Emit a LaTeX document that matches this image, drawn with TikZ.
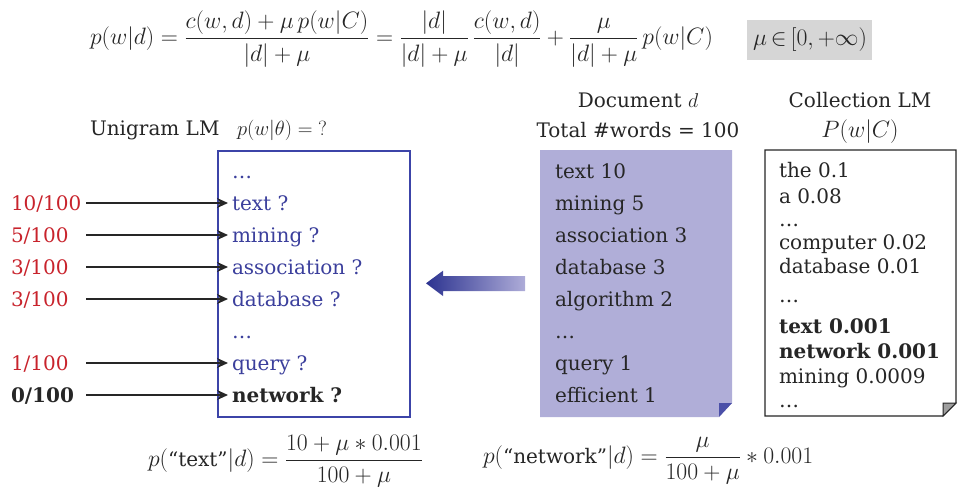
\RequirePackage{fix-cm}
\documentclass[tikz,border=0pt]{standalone}
\usepackage{amsmath}
\usepackage{fontspec}
\setmainfont{DejaVu Serif}
\usetikzlibrary{arrows.meta}

\definecolor{cntred}{HTML}{C8232C}
\definecolor{lmblue}{HTML}{3B3F9C}
\definecolor{boxblue}{HTML}{3C44A8}
\definecolor{docfill}{HTML}{B0AED8}
\definecolor{docfold}{HTML}{4B50A8}
\definecolor{ink}{HTML}{262626}
\definecolor{graybox}{HTML}{D6D6D6}
\definecolor{arrowdark}{HTML}{2C3390}
\definecolor{arrowlight}{HTML}{AEACD8}

\newcommand{\qword}[1]{\text{\fontsize{20}{24}\selectfont``#1''}}

\begin{document}
\begin{tikzpicture}[x=1pt,y=-1pt,
  every node/.style={inner sep=0pt, outer sep=0pt, text=ink},
  txt/.style={font=\fontsize{20}{24}\selectfont, anchor=base west, text height=16pt, text depth=2pt},
  cnt/.style={txt, text=cntred},
  word/.style={txt, text=lmblue},
  conn/.style={draw=ink, line width=1.4pt, -{Stealth[length=11pt,width=10pt]}, shorten >=4pt},
  math/.style={font=\fontsize{23.7}{28}\selectfont},
  smallmath/.style={font=\fontsize{20.5}{24}\selectfont}]

\useasboundingbox (0,0) rectangle (961,491);

% ---- smoothing formula and range of mu ----
\node[math, anchor=west] (formula) at (90,39)
  {$p(w|d)=\dfrac{c(w,d)+\mu\, p(w|C)}{|d|+\mu}
    =\dfrac{|d|}{|d|+\mu}\,\dfrac{c(w,d)}{|d|}
    +\dfrac{\mu}{|d|+\mu}\,p(w|C)$};
\fill[graybox] (747,20) rectangle (872,60);
\node[math] (murange) at (810,40) {${\mu}\,{\in}\,[0,{+}\infty)$};

% ---- headers ----
\node[txt] (uhead) at (90,135) {Unigram LM};
\node[smallmath, anchor=base west] (uform) at (237,135) {$p(w|\theta) = {?}$};
\node[txt, anchor=base] (dhead) at (638,107) {Document $d$};
\node[txt, anchor=base] (dtotal) at (638,137) {Total \#words = 100};
\node[txt, anchor=base] (chead) at (860,107) {Collection LM};
\node[math, anchor=base] (cform) at (860,137) {$P(w|C)$};

% ---- unigram model box ----
\draw[boxblue, line width=1.5pt] (218,151) rectangle (410,417);
\node[word] (u0) at (232,178) {\dots};
\node[word] (u1) at (232,210) {text ?};
\node[word] (u2) at (232,242) {mining ?};
\node[word] (u3) at (232,274) {association ?};
\node[word] (u4) at (232,306) {database ?};
\node[word] (u5) at (232,338) {\dots};
\node[word] (u6) at (232,370) {query ?};
\node[txt, font=\fontsize{20}{24}\selectfont\bfseries] (u7) at (232,402) {network ?};

% ---- relative counts ----
\coordinate (sx) at (86,0);
\node[cnt] (c1) at (11,210) {10/100};
\node[cnt] (c2) at (11,242) {5/100};
\node[cnt] (c3) at (11,274) {3/100};
\node[cnt] (c4) at (11,306) {3/100};
\node[cnt] (c6) at (11,370) {1/100};
\node[txt, font=\fontsize{20}{24}\selectfont\bfseries] (c7) at (11,402) {0/100};
\foreach \i in {1,2,3,4,6,7}
  \draw[conn] (c\i.east -| sx) -- (u\i.west);

% ---- estimation arrow ----
\shade[left color=arrowdark, right color=arrowlight]
  (426,283.3) -- (443,270.7) -- (443,276) -- (525,276) -- (525,291)
  -- (443,291) -- (443,296) -- cycle;

% ---- document ----
\fill[docfill] (540,150) -- (732,150) -- (732,403) -- (719,417) -- (540,417) -- cycle;
\fill[docfold] (719,403) -- (732,403) -- (719,417) -- cycle;
\node[txt] (d0) at (555,178) {text 10};
\node[txt] (d1) at (555,210) {mining 5};
\node[txt] (d2) at (555,242) {association 3};
\node[txt] (d3) at (555,274) {database 3};
\node[txt] (d4) at (555,306) {algorithm 2};
\node[txt] (d5) at (555,338) {\dots};
\node[txt] (d6) at (555,370) {query 1};
\node[txt] (d7) at (555,402) {efficient 1};

% ---- collection model ----
\draw[ink, line width=1.2pt, fill=white] (765,150) -- (956,150) -- (956,403) -- (943,416) -- (765,416) -- cycle;
\draw[ink, line width=1pt, fill=black!38] (943,403) -- (956,403) -- (943,416) -- cycle;
\node[txt] (k0) at (779,177) {the 0.1};
\node[txt] (k1) at (779,203) {a 0.08};
\node[txt] (k2) at (779,226) {\dots};
\node[txt] (k3) at (779,249) {computer 0.02};
\node[txt] (k4) at (779,273) {database 0.01};
\node[txt] (k5) at (779,302) {\dots};
\node[txt, font=\fontsize{20}{24}\selectfont\bfseries] (k6) at (779,333) {text 0.001};
\node[txt, font=\fontsize{20}{24}\selectfont\bfseries] (k7) at (779,358) {network 0.001};
\node[txt] (k8) at (779,383) {mining 0.0009};
\node[txt] (k9) at (779,407) {\dots};

% ---- worked examples ----
\node[math, anchor=west] (ptext) at (148,461)
  {$p(\qword{text}|d)=\dfrac{10+\mu*0.001}{100+\mu}$};
\node[math, anchor=west] (pnet) at (483,461)
  {$p(\qword{network}|d)=\dfrac{\mu}{100+\mu}*0.001$};
\end{tikzpicture}
\end{document}
